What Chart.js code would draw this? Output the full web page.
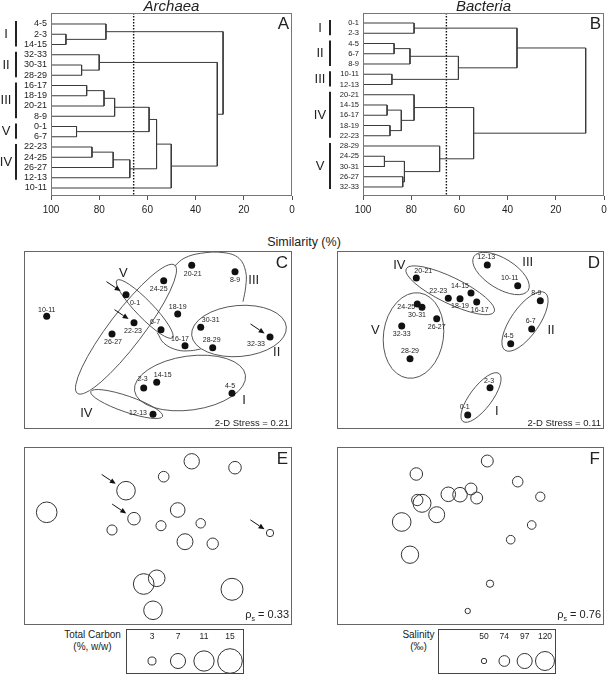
<!DOCTYPE html>
<html>
<head>
<meta charset="utf-8">
<title>Archaea / Bacteria</title>
<script src="https://cdn.jsdelivr.net/npm/chart.js@4.4.1/dist/chart.umd.min.js"></script>
<style>
  body { margin: 0; background: #fff; }
  #fig { position: relative; width: 608px; height: 675px; font-family: 'Liberation Sans', Arial, sans-serif; color: #222; }
  #fig canvas { position: absolute; }
  .lbl { position: absolute; text-align: center; white-space: nowrap; }
</style>
</head>
<body>
<div id="fig">
  <canvas id="dendA" width="300" height="225" style="left:0px;top:0px"></canvas>
  <canvas id="dendB" width="304" height="225" style="left:304px;top:0px"></canvas>
  <div class="lbl" style="left:0px;top:234px;width:608px;font-size:12.5px;line-height:16px">Similarity (%)</div>
  <canvas id="mdsC" width="268" height="178" style="left:24px;top:251px"></canvas>
  <canvas id="mdsD" width="267" height="178" style="left:337px;top:251px"></canvas>
  <canvas id="bubE" width="268" height="178" style="left:24px;top:447px"></canvas>
  <canvas id="bubF" width="267" height="178" style="left:337px;top:447px"></canvas>
  <div class="lbl" style="left:47px;top:629px;width:91px;font-size:10px;line-height:12px">Total Carbon<br>(%, w/w)</div>
  <canvas id="keyE" width="118" height="45" style="left:126px;top:629px"></canvas>
  <div class="lbl" style="left:373px;top:629px;width:91px;font-size:10px;line-height:12px">Salinity<br>(‰)</div>
  <canvas id="keyF" width="118" height="45" style="left:438px;top:629px"></canvas>
</div>
<script>
// ---------- A / B : cluster dendrograms (similarity, %) ----------
var archaeaLeaves = ['4-5','2-3','14-15','32-33','30-31','28-29','16-17','18-19','20-21','8-9','0-1','6-7','22-23','24-25','26-27','12-13','10-11'];
// [child, child, similarity]  child = leaf name or index of an earlier merge
var archaeaMerges = [
  ['2-3', '14-15', 93.8],   // 0
  ['4-5', 0, 77.2],         // 1
  ['30-31', '28-29', 87.3], // 2
  ['32-33', 2, 80.0],       // 3
  ['16-17', '18-19', 85.2], // 4
  [4, '20-21', 78.0],       // 5
  [5, '8-9', 73.6],         // 6
  ['0-1', '6-7', 89.4],     // 7
  [6, 7, 59.3],             // 8
  ['22-23', '24-25', 83.0], // 9
  [9, '26-27', 74.2],       // 10
  [10, '12-13', 67.3],      // 11
  [8, 11, 56.2],            // 12
  [12, '10-11', 50.1],      // 13
  [3, 13, 31.0],            // 14
  [1, 14, 28.6]             // 15
];
var archaeaGroups = [['I','4-5','14-15'], ['II','32-33','28-29'], ['III','16-17','8-9'], ['V','0-1','6-7'], ['IV','22-23','12-13']];
var archaeaCut = 65.7;

var bacteriaLeaves = ['0-1','2-3','4-5','6-7','8-9','10-11','12-13','20-21','14-15','16-17','18-19','22-23','28-29','24-25','30-31','26-27','32-33'];
var bacteriaMerges = [
  ['0-1', '2-3', 78.8],     // 0
  ['4-5', '6-7', 87.1],     // 1
  [1, '8-9', 80.5],         // 2
  ['10-11', '12-13', 88.0], // 3
  [2, 3, 60.4],             // 4
  [0, 4, 36.1],             // 5
  ['14-15', '16-17', 90.0], // 6
  ['18-19', '22-23', 88.8], // 7
  [6, 7, 84.1],             // 8
  ['20-21', 8, 78.8],       // 9
  ['24-25', '30-31', 91.1], // 10
  ['26-27', '32-33', 83.5], // 11
  [10, 11, 82.8],           // 12
  ['28-29', 12, 68.2],      // 13
  [9, 13, 54.1],            // 14
  [5, 14, 7.6]              // 15
];
var bacteriaGroups = [['I','0-1','2-3'], ['II','4-5','8-9'], ['III','10-11','12-13'], ['IV','20-21','22-23'], ['V','28-29','32-33']];
var bacteriaCut = 65.4;

var simTicks = [0, 20, 40, 60, 80, 100];

// ---------- C / E : archaea MDS ----------
var archaeaSites = ['10-11','0-1','24-25','20-21','8-9','18-19','22-23','6-7','26-27','30-31','16-17','28-29','32-33','2-3','14-15','4-5','12-13'];
var archaeaMdsX  = [22.7, 102, 139.7, 167.7, 211, 153.7, 110, 137, 88, 176.7, 161, 188.7, 246, 119.7, 132.7, 208, 129];
var archaeaMdsY  = [66.3, 44.7, 30.7, 15.3, 21.7, 64, 72.7, 79.7, 84, 77.3, 95.7, 97.7, 87, 138, 132.3, 143.3, 164.3];
var totalCarbon  = [11.3, 9.6, 4.3, 7.2, 5.4, 6.7, 5.4, 4.0, 4.0, 3.7, 7.6, 4.7, 2.7, 11.3, 8.1, 12.5, 9.6];
var archaeaStress = 0.21;
var carbonRho = '0.33';
var carbonKey = [3, 7, 11, 15];

// ---------- D / F : bacteria MDS ----------
var bacteriaSites = ['12-13','10-11','20-21','22-23','14-15','18-19','16-17','8-9','24-25','30-31','26-27','32-33','6-7','4-5','28-29','2-3','0-1'];
var bacteriaMdsX  = [151.3, 181.7, 80.3, 112.3, 135, 124, 140.7, 204.3, 81.3, 86, 100.7, 65.7, 195.7, 174.7, 74, 154, 131.7];
var bacteriaMdsY  = [15, 35.7, 28, 48.3, 43, 48.7, 52, 50.7, 54, 57.3, 68.7, 76, 79, 93.7, 108.7, 137.7, 165];
var salinity      = [80, 73, 83, 94, 80, 94, 80, 67, 77, 114, 102, 118, 64, 64, 110, 58, 50];
var bacteriaStress = 0.11;
var salinityRho = '0.76';
var salinityKey = [50, 74, 97, 120];

var arrowSites = ['0-1', '22-23', '32-33'];   // marked archaea samples

// group outlines (plot units): cx, cy, rx, ry, rotation deg
var archaeaEllipses = [
  ['V', 120.7, 59, 40, 8.5, 46],
  ['IV', 102, 79.2, 80.5, 17, -52.8],
  ['IV', 102.7, 154, 38, 8, 19],
  ['II', 215, 81, 47.5, 25.5, -5],
  ['I', 166, 133, 56, 27, -8]
];
var archaeaHullIII = [
  [[150.7,16],[160,8.3],[176.7,3.3],[200,2.7],[215,8.3],[221.7,21.7],[221.7,36.7],[219,51.7]],
  [[133.3,82.7],[140,93.3],[153.3,100],[166.7,100.7],[176.7,99]]
];
var bacteriaEllipses = [
  ['IV', 114.2, 40.3, 49, 13, 26],
  ['III', 165, 23.5, 32, 15, 32],
  ['II', 189, 71.5, 35, 14, -55],
  ['V', 77.5, 85.5, 30, 43, 8],
  ['I', 145, 147.5, 30, 11, -53]
];

// ---------- layout (not data) ----------
var FAM = "'Liberation Sans', Arial, sans-serif";
var archaeaRomanAt = {V:[99.3,23.3], III:[229.7,30], II:[252.7,102.7], I:[220,150.7], IV:[62.3,163.3]};
var bacteriaRomanAt = {IV:[63.3,15], III:[191.7,12.7], II:[215,80], V:[39.3,80], I:[160.7,161]};
var archaeaLabelOff = {'10-11':[0,-6],'0-1':[9,8],'24-25':[-5,8],'20-21':[1,9],'8-9':[0,8],'18-19':[0,-7],
  '22-23':[-1,8],'6-7':[-6,-8],'26-27':[1,8],'30-31':[10,-7],'16-17':[-5,-7],'28-29':[-1,-8],'32-33':[-14,7],
  '2-3':[-1,-9],'14-15':[6,-7],'4-5':[-2,-7],'12-13':[-15,-1]};
var bacteriaLabelOff = {'12-13':[-1,-8],'10-11':[-8,-8],'20-21':[7,-7],'22-23':[-10,-7],'14-15':[-11,-7],
  '18-19':[0,7],'16-17':[3,8],'8-9':[-4,-8],'24-25':[-11,3],'30-31':[-5,8],'26-27':[0,8],'32-33':[0,8],
  '6-7':[-1,-8],'4-5':[-2,-8],'28-29':[0,-8],'2-3':[-1,-7],'0-1':[-3,-8]};

// bubble scales, matched to the keys
function carbonR(v) { return 3.88 * Math.sqrt(v) - 2.72; }
function salinityR(v) { return 1.75 * Math.sqrt(v) - 9.68; }

Chart.defaults.font.family = FAM;
Chart.defaults.color = '#222';
Chart.defaults.animation = false;
Chart.defaults.events = [];
Chart.defaults.plugins.legend.display = false;
Chart.defaults.plugins.tooltip.enabled = false;

function dendroDatasets(leaves, merges) {
  var pos = [], sets = [];
  function node(c) {
    if (typeof c === 'string') return {y: leaves.indexOf(c), h: 100};
    return pos[c];
  }
  merges.forEach(function (m, i) {
    var a = node(m[0]), b = node(m[1]);
    pos[i] = {y: (a.y + b.y) / 2, h: m[2]};
    sets.push({
      data: [{x: a.h, y: a.y}, {x: m[2], y: a.y}, {x: m[2], y: b.y}, {x: b.h, y: b.y}],
      showLine: true, borderColor: '#3a3a3a', borderWidth: 1, pointRadius: 0, tension: 0
    });
  });
  return sets;
}

function makeDendro(id, title, letter, leaves, merges, groups, cut, o) {
  var sets = dendroDatasets(leaves, merges);
  sets.push({data: [{x: cut, y: o.yMin}, {x: cut, y: o.yMax}], showLine: true, borderColor: '#111',
    borderWidth: 1.4, borderDash: [1.5, 1.5], pointRadius: 0});
  var deco = {
    id: 'dendroDeco',
    afterDraw: function (chart) {
      var ctx = chart.ctx, a = chart.chartArea, ys = chart.scales.y;
      ctx.save();
      ctx.strokeStyle = '#777'; ctx.lineWidth = 1;
      ctx.strokeRect(a.left + 0.5, a.top + 0.5, a.right - a.left - 1, a.bottom - a.top - 1);
      ctx.fillStyle = '#222';
      ctx.font = 'italic 15px ' + FAM; ctx.textAlign = 'center'; ctx.textBaseline = 'middle';
      ctx.fillText(title, (a.left + a.right) / 2, 7);
      ctx.font = '17px ' + FAM; ctx.textAlign = 'right'; ctx.textBaseline = 'alphabetic';
      ctx.fillText(letter, a.right - 3, 29);
      ctx.font = '13px ' + FAM; ctx.textAlign = 'center'; ctx.textBaseline = 'middle';
      ctx.strokeStyle = '#222'; ctx.lineWidth = 2;
      groups.forEach(function (g) {
        var y0 = ys.getPixelForValue(leaves.indexOf(g[1])) - 3;
        var y1 = ys.getPixelForValue(leaves.indexOf(g[2])) + 2;
        ctx.beginPath(); ctx.moveTo(o.barX, y0); ctx.lineTo(o.barX, y1); ctx.stroke();
        ctx.fillText(g[0], o.romanX, (y0 + y1) / 2 + 0.5);
      });
      ctx.restore();
    }
  };
  return new Chart(document.getElementById(id), {
    type: 'scatter',
    data: {datasets: sets},
    options: {
      responsive: false, devicePixelRatio: 1,
      layout: {autoPadding: false, padding: {top: 13, right: o.right, bottom: 0, left: 0}},
      scales: {
        x: {min: 0, max: 100, reverse: true,
          afterFit: function (s) { s.height = 29; },
          afterBuildTicks: function (s) { s.ticks = simTicks.map(function (v) { return {value: v}; }); },
          ticks: {padding: 4, font: {size: 10}, color: '#222'},
          grid: {drawOnChartArea: false, tickLength: 4, color: '#555'},
          border: {display: false}},
        y: {min: o.yMin, max: o.yMax, reverse: true,
          afterFit: function (s) { s.width = o.axisWidth; },
          afterBuildTicks: function (s) { s.ticks = leaves.map(function (l, i) { return {value: i}; }); },
          ticks: {autoSkip: false, padding: 4, font: {size: o.leafFont}, color: '#222',
            callback: function (v) { return leaves[v]; }},
          grid: {display: false, drawTicks: false},
          border: {display: false}}
      }
    },
    plugins: [deco]
  });
}

makeDendro('dendA', 'Archaea', 'A', archaeaLeaves, archaeaMerges, archaeaGroups, archaeaCut,
  {yMin: -1.073, yMax: 16.78, axisWidth: 51, right: 8, leafFont: 9, barX: 16, romanX: 6});
makeDendro('dendB', 'Bacteria', 'B', bacteriaLeaves, bacteriaMerges, bacteriaGroups, bacteriaCut,
  {yMin: -0.976, yMax: 16.88, axisWidth: 59, right: 4, leafFont: 7.5, barX: 26, romanX: 16});

// arrow pointing down-right at a marker
function drawArrow(ctx, cx, cy, r) {
  var ux = 0.83, uy = 0.555, tipD = r + 3, len = 17, head = 6, hw = 2.6;
  var tx = cx - ux * tipD, ty = cy - uy * tipD;
  var sx = tx - ux * len, sy = ty - uy * len;
  var bx = tx - ux * head, by = ty - uy * head;
  ctx.beginPath(); ctx.moveTo(sx, sy); ctx.lineTo(bx, by); ctx.stroke();
  ctx.beginPath(); ctx.moveTo(tx, ty);
  ctx.lineTo(bx - uy * hw, by + ux * hw); ctx.lineTo(bx + uy * hw, by - ux * hw);
  ctx.closePath(); ctx.fill();
}

function drawRho(ctx, value, xr, yb) {
  ctx.textAlign = 'left'; ctx.textBaseline = 'alphabetic';
  ctx.font = '11px ' + FAM; var wr = ctx.measureText('ρ').width;
  var wt = ctx.measureText(' = ' + value).width;
  ctx.font = '7px ' + FAM; var ws = ctx.measureText('s').width;
  var x0 = xr - wt - ws - wr;
  ctx.fillText('s', x0 + wr, yb + 3);
  ctx.font = '11px ' + FAM;
  ctx.fillText('ρ', x0, yb);
  ctx.fillText(' = ' + value, x0 + wr + ws, yb);
}

function panelDeco(cfg) {
  return {
    id: 'panelDeco',
    beforeDatasetsDraw: function (chart) {
      var ctx = chart.ctx, xs = chart.scales.x, ys = chart.scales.y;
      ctx.save(); ctx.strokeStyle = '#444'; ctx.lineWidth = 0.9;
      (cfg.ellipses || []).forEach(function (e) {
        var cx = xs.getPixelForValue(e[1]), cy = ys.getPixelForValue(e[2]);
        var rx = Math.abs(xs.getPixelForValue(e[1] + e[3]) - cx);
        var ry = Math.abs(ys.getPixelForValue(e[2] + e[4]) - cy);
        ctx.beginPath(); ctx.ellipse(cx, cy, rx, ry, e[5] * Math.PI / 180, 0, 2 * Math.PI); ctx.stroke();
      });
      ctx.restore();
    },
    afterDraw: function (chart) {
      var ctx = chart.ctx, a = chart.chartArea, xs = chart.scales.x, ys = chart.scales.y;
      ctx.save();
      ctx.strokeStyle = '#666'; ctx.lineWidth = 1;
      ctx.strokeRect(a.left + 0.5, a.top + 0.5, a.right - a.left - 1, a.bottom - a.top - 1);
      ctx.fillStyle = '#222';
      if (cfg.labelOff) {
        ctx.font = '7px ' + FAM; ctx.textAlign = 'center'; ctx.textBaseline = 'middle';
        cfg.sites.forEach(function (s, i) {
          var off = cfg.labelOff[s] || [0, -8];
          ctx.fillText(s, xs.getPixelForValue(cfg.xs[i]) + off[0], ys.getPixelForValue(cfg.ys[i]) + off[1]);
        });
      }
      if (cfg.romanAt) {
        ctx.font = '13px ' + FAM; ctx.textAlign = 'center'; ctx.textBaseline = 'middle';
        Object.keys(cfg.romanAt).forEach(function (k) {
          var p = cfg.romanAt[k];
          ctx.fillText(k, xs.getPixelForValue(p[0]), ys.getPixelForValue(p[1]));
        });
      }
      ctx.font = '17px ' + FAM; ctx.textAlign = 'right'; ctx.textBaseline = 'alphabetic';
      ctx.fillText(cfg.letter, xs.getPixelForValue(264), ys.getPixelForValue(18.3));
      if (cfg.stress !== undefined) {
        ctx.font = '9.5px ' + FAM; ctx.textAlign = 'right'; ctx.textBaseline = 'middle';
        ctx.fillText('2-D Stress = ' + cfg.stress.toFixed(2), xs.getPixelForValue(265), ys.getPixelForValue(173.3));
      }
      if (cfg.rho) drawRho(ctx, cfg.rho, xs.getPixelForValue(265), ys.getPixelForValue(172));
      if (cfg.arrows) {
        ctx.strokeStyle = '#111'; ctx.fillStyle = '#111'; ctx.lineWidth = 1;
        cfg.arrows.forEach(function (s) {
          var i = cfg.sites.indexOf(s);
          drawArrow(ctx, xs.getPixelForValue(cfg.xs[i]), ys.getPixelForValue(cfg.ys[i]), cfg.markR(i));
        });
      }
      ctx.restore();
    }
  };
}

function makePanel(id, cfg) {
  var sets = [];
  if (cfg.sizes) {
    sets.push({type: 'bubble',
      data: cfg.sites.map(function (s, i) { return {x: cfg.xs[i], y: cfg.ys[i], r: cfg.sizeR(cfg.sizes[i])}; }),
      backgroundColor: 'rgba(0,0,0,0)', borderColor: '#333', borderWidth: 1});
  } else {
    sets.push({data: cfg.sites.map(function (s, i) { return {x: cfg.xs[i], y: cfg.ys[i]}; }),
      backgroundColor: '#111', borderWidth: 0, pointRadius: 3.5});
  }
  (cfg.hulls || []).forEach(function (h) {
    sets.push({data: h.map(function (p) { return {x: p[0], y: p[1]}; }), showLine: true, tension: 0.4,
      pointRadius: 0, borderColor: '#444', borderWidth: 0.9});
  });
  return new Chart(document.getElementById(id), {
    type: cfg.sizes ? 'bubble' : 'scatter',
    data: {datasets: sets},
    options: {
      responsive: false, devicePixelRatio: 1,
      layout: {autoPadding: false, padding: 0},
      scales: {
        x: {type: 'linear', display: false, min: cfg.xMin, max: cfg.xMin + chartW(id)},
        y: {type: 'linear', display: false, min: 1, max: 179, reverse: true}
      }
    },
    plugins: [panelDeco(cfg)]
  });
}
function chartW(id) { return document.getElementById(id).width; }

makePanel('mdsC', {letter: 'C', sites: archaeaSites, xs: archaeaMdsX, ys: archaeaMdsY, xMin: 0,
  ellipses: archaeaEllipses, hulls: archaeaHullIII, romanAt: archaeaRomanAt, labelOff: archaeaLabelOff,
  stress: archaeaStress, arrows: arrowSites, markR: function () { return 3.5; }});
makePanel('mdsD', {letter: 'D', sites: bacteriaSites, xs: bacteriaMdsX, ys: bacteriaMdsY, xMin: 1,
  ellipses: bacteriaEllipses, romanAt: bacteriaRomanAt, labelOff: bacteriaLabelOff, stress: bacteriaStress});
makePanel('bubE', {letter: 'E', sites: archaeaSites, xs: archaeaMdsX, ys: archaeaMdsY, xMin: 0,
  sizes: totalCarbon, sizeR: carbonR, rho: carbonRho, arrows: arrowSites,
  markR: function (i) { return carbonR(totalCarbon[i]); }});
makePanel('bubF', {letter: 'F', sites: bacteriaSites, xs: bacteriaMdsX, ys: bacteriaMdsY, xMin: 1,
  sizes: salinity, sizeR: salinityR, rho: salinityRho});

// size keys
function makeKey(id, values, sizeR, first, step) {
  var w = chartW(id);
  new Chart(document.getElementById(id), {
    type: 'bubble',
    data: {datasets: [{data: values.map(function (v, i) { return {x: i, y: 32, r: sizeR(v)}; }),
      backgroundColor: 'rgba(0,0,0,0)', borderColor: '#333', borderWidth: 1}]},
    options: {
      responsive: false, devicePixelRatio: 1, layout: {autoPadding: false, padding: 0},
      scales: {
        x: {type: 'linear', display: false, min: -first / step, max: (w - first) / step},
        y: {type: 'linear', display: false, min: 0, max: 45, reverse: true}
      }
    },
    plugins: [{id: 'keyDeco', afterDraw: function (chart) {
      var ctx = chart.ctx, a = chart.chartArea, xs = chart.scales.x, ys = chart.scales.y;
      ctx.save();
      ctx.strokeStyle = '#444'; ctx.lineWidth = 1;
      ctx.strokeRect(a.left + 0.5, a.top + 0.5, a.right - a.left - 1, a.bottom - a.top - 1);
      ctx.fillStyle = '#222'; ctx.font = '8.5px ' + FAM; ctx.textAlign = 'center'; ctx.textBaseline = 'middle';
      values.forEach(function (v, i) { ctx.fillText(String(v), xs.getPixelForValue(i), ys.getPixelForValue(7.5)); });
      ctx.restore();
    }}]
  });
}
makeKey('keyE', carbonKey, carbonR, 26, 26);
makeKey('keyF', salinityKey, salinityR, 46, 20.33);
</script>
</body>
</html>
